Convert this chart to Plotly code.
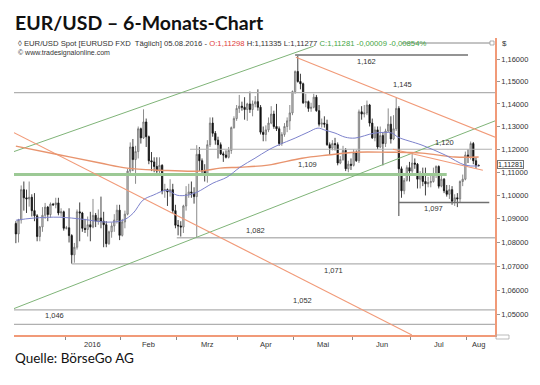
import math
import pandas as pd
import plotly.graph_objects as go

# ---------------- data ----------------
dates = pd.bdate_range("2015-12-07", "2016-08-05")

opens = [1.0880, 1.0836, 1.0896, 1.1025, 1.0990, 1.0985, 1.0992, 1.0935, 1.0913, 1.0825,
         1.0866, 1.0915, 1.0950, 1.0918, 1.0963, 1.0960, 1.0968, 1.0925, 1.0930,
         1.0860, 1.0862, 1.0829, 1.0748, 1.0780, 1.0930, 1.0925, 1.0860, 1.0855, 1.0875,
         1.0865, 1.0915, 1.0890, 1.0904, 1.0890, 1.0875, 1.0795, 1.0845, 1.0870, 1.0895, 1.0937,
         1.0830, 1.0887, 1.0920, 1.1105, 1.1210, 1.1155, 1.1190, 1.1290, 1.1250, 1.1320,
         1.1255, 1.1150, 1.1145, 1.1125, 1.1105, 1.1130, 1.1020, 1.1025, 1.1015, 1.1025, 1.0935,
         1.0873, 1.0870, 1.0865, 1.0955, 1.1005, 1.1015, 1.1010, 1.0995, 1.1178, 1.1150,
         1.1105, 1.1095, 1.1220, 1.1315, 1.1270, 1.1240, 1.1220, 1.1180, 1.1175, 1.1165,
         1.1195, 1.1295, 1.1335,
         1.1380, 1.1390, 1.1385, 1.1375, 1.1400, 1.1375, 1.1400, 1.1410, 1.1385, 1.1275,
         1.1265, 1.1285, 1.1315, 1.1355, 1.1300, 1.1290, 1.1225, 1.1265, 1.1300, 1.1325, 1.1360,
         1.1455, 1.1545, 1.1500, 1.1490, 1.1405, 1.1410, 1.1380, 1.1385, 1.1430, 1.1370,
         1.1310, 1.1315, 1.1310, 1.1220, 1.1205, 1.1225, 1.1220, 1.1140, 1.1155, 1.1195,
         1.1115, 1.1135,
         1.1130, 1.1185, 1.1150, 1.1365, 1.1355, 1.1360, 1.1395, 1.1315, 1.1250, 1.1285,
         1.1210, 1.1260, 1.1225, 1.1280, 1.1310, 1.1245, 1.1290, 1.1380, 1.1115, 1.1020,
         1.1065, 1.1120,
         1.1105, 1.1140, 1.1135, 1.1070, 1.1095, 1.1060, 1.1050, 1.1055, 1.1060, 1.1090,
         1.1125, 1.1040, 1.1070, 1.1020, 1.1005, 1.1025, 1.0975, 1.0990, 1.0985, 1.1060, 1.1070,
         1.1175, 1.1165, 1.1225, 1.1150, 1.11298]
highs = [1.0890, 1.0900, 1.1043, 1.1060, 1.1025, 1.1060, 1.1005, 1.1010, 1.0920, 1.0870,
         1.0950, 1.0968, 1.0955, 1.0970, 1.0968, 1.0990, 1.0990, 1.0945, 1.0935,
         1.0870, 1.0945, 1.0835, 1.0798, 1.0940, 1.0970, 1.0930, 1.0900, 1.0910, 1.0930,
         1.0985, 1.0925, 1.0940, 1.0995, 1.0930, 1.0890, 1.0850, 1.0885, 1.0920, 1.0960, 1.0960,
         1.0900, 1.0935, 1.1115, 1.1230, 1.1245, 1.1215, 1.1300, 1.1295, 1.1376, 1.1335,
         1.1260, 1.1188, 1.1165, 1.1165, 1.1165, 1.1135, 1.1050, 1.1030, 1.1070, 1.1050, 1.0960,
         1.0895, 1.0890, 1.0960, 1.1040, 1.1050, 1.1060, 1.1035, 1.1218, 1.1210, 1.1160,
         1.1135, 1.1240, 1.1340, 1.1340, 1.1280, 1.1255, 1.1230, 1.1190, 1.1195, 1.1210,
         1.1300, 1.1345, 1.1395,
         1.1440, 1.1410, 1.1430, 1.1405, 1.1455, 1.1415, 1.1435, 1.1465, 1.1395, 1.1300,
         1.1305, 1.1340, 1.1390, 1.1370, 1.1400, 1.1300, 1.1275, 1.1315, 1.1340, 1.1395, 1.1460,
         1.1550, 1.1616, 1.1535, 1.1495, 1.1445, 1.1415, 1.1405, 1.1445, 1.1440, 1.1395,
         1.1335, 1.1345, 1.1330, 1.1230, 1.1240, 1.1250, 1.1230, 1.1170, 1.1215, 1.1205,
         1.1150, 1.1160,
         1.1200, 1.1195, 1.1375, 1.1390, 1.1395, 1.1415, 1.1400, 1.1335, 1.1300, 1.1300,
         1.1300, 1.1275, 1.1290, 1.1380, 1.1345, 1.1350, 1.1427, 1.1390, 1.1125, 1.1075,
         1.1130, 1.1145,
         1.1185, 1.1160, 1.1140, 1.1105, 1.1120, 1.1120, 1.1080, 1.1090, 1.1120, 1.1130,
         1.1130, 1.1090, 1.1075, 1.1045, 1.1045, 1.1040, 1.1005, 1.1010, 1.1065, 1.1090, 1.1190,
         1.1200, 1.1234, 1.1232, 1.1165, 1.11335]
lows = [1.0797, 1.0800, 1.0880, 1.0935, 1.0925, 1.0952, 1.0910, 1.0890, 1.0805, 1.0805,
        1.0845, 1.0900, 1.0890, 1.0905, 1.0955, 1.0945, 1.0915, 1.0910, 1.0850,
        1.0855, 1.0800, 1.0711, 1.0715, 1.0770, 1.0805, 1.0845, 1.0840, 1.0825, 1.0805,
        1.0860, 1.0865, 1.0875, 1.0860, 1.0780, 1.0780, 1.0790, 1.0820, 1.0845, 1.0880, 1.0810,
        1.0825, 1.0860, 1.0915, 1.1085, 1.1105, 1.1050, 1.1160, 1.1225, 1.1245, 1.1210,
        1.1135, 1.1105, 1.1100, 1.1090, 1.1090, 1.1005, 1.0990, 1.0955, 1.0995, 1.0925, 1.0860,
        1.0830, 1.0825, 1.0840, 1.0935, 1.0990, 1.0990, 1.0965, 1.0822, 1.1105, 1.1090,
        1.1060, 1.1055, 1.1210, 1.1255, 1.1220, 1.1160, 1.1175, 1.1145, 1.1160, 1.1160,
        1.1180, 1.1290, 1.1325,
        1.1360, 1.1370, 1.1330, 1.1325, 1.1360, 1.1345, 1.1385, 1.1370, 1.1265, 1.1235,
        1.1235, 1.1275, 1.1310, 1.1290, 1.1280, 1.1215, 1.1215, 1.1255, 1.1275, 1.1285, 1.1350,
        1.1445, 1.1495, 1.1465, 1.1400, 1.1385, 1.1365, 1.1365, 1.1380, 1.1365, 1.1300,
        1.1295, 1.1295, 1.1215, 1.1175, 1.1195, 1.1195, 1.1130, 1.1135, 1.1150, 1.1105,
        1.1100, 1.1110,
        1.1125, 1.1145, 1.1140, 1.1330, 1.1340, 1.1350, 1.1300, 1.1245, 1.1235, 1.1200,
        1.1205, 1.1130, 1.1210, 1.1275, 1.1225, 1.1240, 1.1280, 1.0912, 1.0990, 1.1005,
        1.1060, 1.1060,
        1.1095, 1.1115, 1.1030, 1.1030, 1.1040, 1.1000, 1.1035, 1.1035, 1.1055, 1.1075,
        1.1030, 1.1035, 1.1010, 1.0995, 1.0985, 1.0960, 1.0955, 1.0950, 1.0970, 1.1040, 1.1065,
        1.1140, 1.1155, 1.1135, 1.1115, 1.11277]
closes = [1.0836, 1.0896, 1.1025, 1.0990, 1.0985, 1.0992, 1.0935, 1.0913, 1.0825, 1.0866,
          1.0915, 1.0950, 1.0918, 1.0963, 1.0960, 1.0968, 1.0925, 1.0930, 1.0860,
          1.0862, 1.0829, 1.0748, 1.0780, 1.0930, 1.0925, 1.0860, 1.0855, 1.0875, 1.0865,
          1.0915, 1.0890, 1.0904, 1.0890, 1.0875, 1.0795, 1.0845, 1.0870, 1.0895, 1.0937, 1.0830,
          1.0887, 1.0920, 1.1105, 1.1210, 1.1155, 1.1190, 1.1290, 1.1250, 1.1320, 1.1255,
          1.1150, 1.1145, 1.1125, 1.1105, 1.1130, 1.1020, 1.1025, 1.1015, 1.1025, 1.0935, 1.0873,
          1.0870, 1.0865, 1.0955, 1.1005, 1.1015, 1.1010, 1.0995, 1.1178, 1.1150, 1.1105,
          1.1095, 1.1220, 1.1315, 1.1270, 1.1240, 1.1220, 1.1180, 1.1175, 1.1165, 1.1195,
          1.1295, 1.1335, 1.1380,
          1.1390, 1.1385, 1.1375, 1.1400, 1.1375, 1.1400, 1.1410, 1.1385, 1.1275, 1.1265,
          1.1285, 1.1315, 1.1355, 1.1300, 1.1290, 1.1225, 1.1265, 1.1300, 1.1325, 1.1360, 1.1455,
          1.1545, 1.1500, 1.1490, 1.1405, 1.1410, 1.1380, 1.1385, 1.1430, 1.1370, 1.1310,
          1.1315, 1.1310, 1.1220, 1.1205, 1.1225, 1.1220, 1.1140, 1.1155, 1.1195, 1.1115,
          1.1135, 1.1130,
          1.1185, 1.1150, 1.1365, 1.1355, 1.1360, 1.1395, 1.1315, 1.1250, 1.1285, 1.1210,
          1.1260, 1.1225, 1.1280, 1.1310, 1.1245, 1.1290, 1.1380, 1.1115, 1.1020, 1.1065,
          1.1120, 1.1105,
          1.1140, 1.1135, 1.1070, 1.1095, 1.1060, 1.1050, 1.1055, 1.1060, 1.1090, 1.1125,
          1.1040, 1.1070, 1.1020, 1.1005, 1.1025, 1.0975, 1.0990, 1.0985, 1.1060, 1.1070, 1.1175,
          1.1165, 1.1225, 1.1150, 1.1130, 1.11281]

# moving averages (trading-day index, value)
ma_blue_idx = [0, 6.5, 16.6, 25.3, 34.3, 40.3, 44.1, 47.8, 51.6, 56.8, 60.6, 64.4, 68.1, 74.1,
               79.4, 84.3, 89.9, 94.8, 98.6, 105, 109.9, 113.6, 116.2, 120, 123.8, 127.5,
               135, 141.4, 143.7, 152.7, 161.4, 168.9, 174]
ma_blue_val = [1.0894, 1.0903, 1.0907, 1.0898, 1.0886, 1.0894, 1.0924, 1.0980, 1.1001, 1.1022,
               1.1001, 1.1001, 1.1014, 1.1053, 1.1079, 1.1122, 1.1161, 1.1196, 1.1218, 1.1249,
               1.1275, 1.1293, 1.1284, 1.1271, 1.1253, 1.1249, 1.1271, 1.1271, 1.1253, 1.1218,
               1.1175, 1.1131, 1.1127]
ma_orange_idx = [0, 16.6, 31.7, 41.8, 54.2, 69.2, 76.8, 84.3, 94.8, 107.6, 117.4, 127.5,
                 139.9, 152.7, 165.1, 174]
ma_orange_val = [1.1214, 1.1175, 1.1140, 1.1118, 1.1109, 1.1105, 1.1118, 1.1122, 1.1131, 1.1161,
                 1.1175, 1.1187, 1.1187, 1.1183, 1.1166, 1.1166]

# horizontal support / resistance levels
levels = [1.162, 1.145, 1.120, 1.109, 1.097, 1.082, 1.071, 1.052, 1.046]
level_labels = ["1,162", "1,145", "1,120", "1,109", "1,097", "1,082", "1,071", "1,052", "1,046"]

# trend lines (start index, start price, end index, end price)
trend_green = [(-0.7, 1.1190, 112.0, 1.1660), (-0.7, 1.0525, 180.2, 1.1325)]
trend_orange = [(-0.7, 1.1273, 148.9, 1.0417), (105.3, 1.1609, 180.2, 1.1253),
                (141.8, 1.1200, 175.6, 1.1109)]

month_labels = ["2016", "Feb", "Mrz", "Apr", "Mai", "Jun", "Jul", "Aug"]
yticks = [1.05, 1.06, 1.07, 1.08, 1.09, 1.10, 1.11, 1.12, 1.13, 1.14, 1.15, 1.16]
last_price = 1.11281

# ---------------- layout constants ----------------
# the page adds an 8px body margin, so the figure is laid out 8px smaller
OFF = 8
W, H = 540 - OFF, 385 - OFF
ML, MR, MT, MB = 14 - OFF, 45, 38 - OFF, 50
PW, PH = W - ML - MR, H - MT - MB
XR = [-0.7, 180.15]
YR = [math.log10(1.0417), math.log10(1.1697)]
FONT = "Liberation Sans, Arial, sans-serif"
HEAD = "Lato, Liberation Sans, sans-serif"
ORANGE = "#f19a78"


def px(xp):  # page pixel -> paper x
    return (xp - OFF - ML) / PW


def py(yp):  # page pixel -> paper y
    return (H - MB - (yp - OFF)) / PH


n = len(dates)
idx = list(range(n))

fig = go.Figure()

# horizontal levels
level_from = [105, XR[0], 65.5, XR[0], 144, 60.5, 21, XR[0], XR[0]]
level_to = [170, XR[1], 179, 162, 178, XR[1], XR[1], XR[1], XR[1]]
level_color = ["#707070", "#b0b0b0", "#b0b0b0", "#9cc995", "#707070", "#b8b8b8", "#b0b0b0",
               "#b0b0b0", "#b0b0b0"]
level_width = [1.6, 1.2, 1.2, 3, 1.6, 1.6, 1.2, 1.2, 1.2]
for lv, a, b, c, w in zip(levels, level_from, level_to, level_color, level_width):
    fig.add_trace(go.Scatter(x=[a, b], y=[lv, lv], mode="lines",
                             line=dict(color=c, width=w), hoverinfo="skip"))

for (x0, y0, x1, y1) in trend_green:
    fig.add_trace(go.Scatter(x=[x0, x1], y=[y0, y1], mode="lines",
                             line=dict(color="#7fb478", width=1), hoverinfo="skip"))
for (x0, y0, x1, y1) in trend_orange:
    fig.add_trace(go.Scatter(x=[x0, x1], y=[y0, y1], mode="lines",
                             line=dict(color=ORANGE, width=1.1), hoverinfo="skip"))

fig.add_trace(go.Scatter(x=ma_orange_idx, y=ma_orange_val, mode="lines", line_shape="spline",
                         line=dict(color="#e8946e", width=1.4), hoverinfo="skip"))
fig.add_trace(go.Scatter(x=ma_blue_idx, y=ma_blue_val, mode="lines", line_shape="spline",
                         line=dict(color="#7d82cc", width=1), hoverinfo="skip"))

fig.add_trace(go.Candlestick(
    x=idx, open=opens, high=highs, low=lows, close=closes,
    increasing=dict(line=dict(color="#6e6e6e", width=0.8), fillcolor="#d6d6d6"),
    decreasing=dict(line=dict(color="#111111", width=0.8), fillcolor="#111111"),
    whiskerwidth=0, hoverinfo="skip"))

# month tick positions (first trading day of month - 0.5)
month_starts = []
prev = None
for i, d in enumerate(dates):
    key = (d.year, d.month)
    if prev is not None and key != prev:
        month_starts.append(i - 0.5)
    prev = key
label_pos = []
for k, s in enumerate(month_starts):
    e = month_starts[k + 1] if k + 1 < len(month_starts) else min(s + 8.6, XR[1])
    label_pos.append((s + e) / 2)

fig.update_layout(
    width=W, height=H, margin=dict(l=ML, r=MR, t=MT, b=MB, autoexpand=False),
    paper_bgcolor="white", plot_bgcolor="white", showlegend=False,
    xaxis=dict(range=XR, showgrid=False, zeroline=False, showticklabels=False,
               tickvals=month_starts, ticks="outside", ticklen=3, tickcolor="#888",
               showline=True, linecolor=ORANGE, linewidth=2, rangeslider=dict(visible=False),
               fixedrange=True),
    yaxis=dict(type="log", range=YR, side="right", showgrid=False, zeroline=False,
               tickvals=yticks, ticktext=[f"{v:.5f}".replace(".", ",") for v in yticks],
               ticks="outside", ticklen=3, tickcolor="#999", showline=True,
               linecolor=ORANGE, linewidth=1.5,
               tickfont=dict(family=FONT, size=7.5, color="#333")),
)

ann = []
for lab, p in zip(month_labels, label_pos):
    ann.append(dict(x=p, y=py(344), xref="x", yref="paper", text=lab, showarrow=False,
                    font=dict(family=FONT, size=7.5, color="#333"), yanchor="middle"))

label_idx = [132, 145.5, 161.3, 109.8, 157.2, 90, 119.6, 107.6, 14.7]
label_shift = [-7, 8, 7, 10, -6, 7, -7, 9, 9]
for lab, lv, xi, sh in zip(level_labels, levels, label_idx, label_shift):
    ann.append(dict(x=xi, y=math.log10(lv), xref="x", yref="y", text=lab, showarrow=False,
                    yshift=sh, font=dict(family=FONT, size=7.5, color="#333")))

ann.append(dict(x=1.004, y=math.log10(last_price), xref="paper", yref="y", yshift=1,
                text=f"{last_price:.5f}".replace(".", ","), showarrow=False, xanchor="left",
                bordercolor="#777", borderwidth=1, borderpad=0, bgcolor="white",
                font=dict(family=FONT, size=7, color="#222")))

ann.append(dict(x=px(13), y=py(22), xref="paper", yref="paper", xanchor="left",
                yanchor="middle", showarrow=False,
                text="<b>EUR/USD – 6-Monats-Chart</b>",
                font=dict(family=HEAD, size=19.5, color="#111")))
sub = ("◊ EUR/USD Spot [EURUSD FXD  Täglich] 05.08.2016 - "
       "<span style='color:#e0403a'>O:1,11298</span> H:1,11335 L:1,11277 "
       "<span style='color:#44a544'>C:1,11281 -0,00009 -0,00854%</span>")
ann.append(dict(x=px(16), y=py(43), xref="paper", yref="paper", xanchor="left",
                yanchor="middle", showarrow=False, text=sub,
                font=dict(family=FONT, size=7.7, color="#333")))
ann.append(dict(x=px(16), y=py(53), xref="paper", yref="paper", xanchor="left",
                yanchor="middle", showarrow=False, text="© www.tradesignalonline.com",
                font=dict(family=FONT, size=7, color="#333")))
ann.append(dict(x=px(500), y=py(43), xref="paper", yref="paper", xanchor="left",
                yanchor="middle", showarrow=False, text="$",
                font=dict(family=FONT, size=8, color="#333")))
ann.append(dict(x=px(13), y=py(358), xref="paper", yref="paper", xanchor="left",
                yanchor="middle", showarrow=False, text="Quelle: BörseGo AG",
                font=dict(family=HEAD, size=13.5, color="#111")))
fig.update_layout(annotations=ann)

fig.add_shape(type="line", xref="paper", yref="paper", x0=px(402), x1=px(490),
              y0=py(43), y1=py(43), line=dict(color="#888", width=1))
fig.add_shape(type="rect", xref="paper", yref="paper", x0=px(490), x1=px(494),
              y0=py(45), y1=py(41), line=dict(color="#999", width=0.8))
fig.add_shape(type="rect", xref="paper", yref="paper", x0=px(496), x1=px(509),
              y0=py(339), y1=py(335), line=dict(color="#aaa", width=0.8))

fig.write_html("out.html")
